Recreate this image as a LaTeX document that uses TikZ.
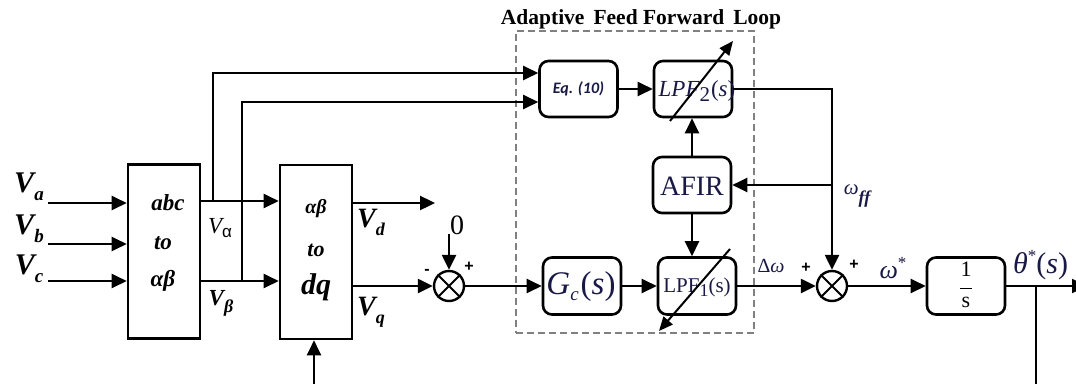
\documentclass[tikz,border=0pt]{standalone}
\usepackage{fontspec}
\setmainfont{Liberation Serif}
\newfontfamily\eqfont{Carlito}
\newfontfamily\arialf{Liberation Sans}
\usetikzlibrary{arrows.meta,calc}
\newcommand\fsz[1]{\fontsize{#1}{#1}\selectfont}
\definecolor{navy}{RGB}{25,25,70}
\definecolor{dashgray}{RGB}{128,128,128}
\begin{document}
\begin{tikzpicture}[x=1pt,y=-1pt,
  wire/.style={line width=2.4pt,-{Triangle[length=15pt,width=14pt]}},
  plain/.style={line width=2.4pt},
  diag/.style={line width=2pt,-{Triangle[length=14pt,width=12pt]}},
  blk/.style={draw,line width=2.6pt,minimum width=72pt,minimum height=174pt,inner sep=0pt},
  rblk/.style={draw,line width=2.6pt,rounded corners=9pt,minimum width=78pt,minimum height=57pt,inner sep=0pt},
  sumn/.style={draw,circle,line width=2.4pt,minimum size=30pt,inner sep=0pt},
  lbl/.style={inner sep=0pt,text=black},
  sign/.style={inner sep=0pt,font=\arialf\fsz{16}\bfseries},
]
\useasboundingbox (0,0) rectangle (1076,383);

% dashed region and title
\node[draw=dashgray,dash pattern=on 7pt off 4pt,line width=2pt,minimum width=238pt,minimum height=302pt,inner sep=0pt] (aff) at (635,182) {};
\node[lbl,font=\fsz{21.5}\bfseries] (title) at (641,19) {Adaptive\hspace{9pt}Feed Forward\hspace{9pt}Loop};

% abc to alpha beta
\node[blk] (abc) at (164,251.5) {};
\node[lbl] (abct) at (168,203) {\fsz{23}\bfseries\itshape abc};
\node[lbl] (abcto) at (163,243) {\fsz{23}\bfseries\itshape to};
\node[lbl] (abcab) at (163,281) {\fsz{23}\bfseries\itshape αβ};

% alpha beta to dq
\node[blk] (dq) at (316,252) {};
\node[lbl] (dqab) at (316,209) {\fsz{20}\bfseries\itshape αβ};
\node[lbl] (dqto) at (316,250) {\fsz{22}\bfseries\itshape to};
\node[lbl] (dqdq) at (316,287) {\fsz{30}\bfseries\itshape dq};

% blocks in the loop
\node[rblk,minimum height=56pt] (eq) at (578.5,89) {};
\node[lbl,text=navy] (eqt) at (578.5,89) {\eqfont\fsz{16}\bfseries\itshape Eq. (10)};
\node[rblk,minimum height=56pt] (lpf2) at (693,89) {};
\node[lbl,text=navy] (lpf2t) at (697,91) {\fsz{23}\itshape LPF\raisebox{-5pt}{\fsz{21}\upshape 2}\hspace{1pt}\upshape(\itshape s\upshape)};
\node[rblk,minimum height=56pt] (afir) at (692,185) {};
\node[lbl,text=navy] (afirt) at (692,186) {\fsz{28}AFIR};
\node[rblk] (gc) at (582,286) {};
\node[lbl,text=navy] (gct) at (581,287) {\fsz{33}\itshape G\raisebox{-6pt}{\fsz{19}c}\hspace{2pt}\upshape(\itshape s\upshape)};
\node[rblk] (lpf1) at (697,286) {};
\node[lbl,text=navy] (lpf1t) at (697,287) {\fsz{21}LPF\raisebox{-4pt}{\fsz{18}1}(s)};
\node[rblk] (ints) at (966,286) {};
\node[lbl] (intst) at (966,287) {\fsz{22}\renewcommand\arraystretch{0.72}\begin{tabular}{@{}c@{}}1\\\rule[3pt]{12pt}{1.2pt}\\s\end{tabular}};

% summing junctions
\node[sumn] (s1) at (449,286) {};
\draw[line width=2pt] (s1.north west) -- (s1.south east) (s1.north east) -- (s1.south west);
\node[sumn] (s2) at (832,286) {};
\draw[line width=2pt] (s2.north west) -- (s2.south east) (s2.north east) -- (s2.south west);

% coordinates
\coordinate (ia) at (48,203);
\coordinate (ib) at (48,244);
\coordinate (ic) at (48,281);
\coordinate (ya) at (0,201);
\coordinate (yb) at (0,281);
\coordinate (ta) at (213,73);
\coordinate (tb) at (242,102);
\coordinate (yd) at (0,203);
\coordinate (vdend) at (435,203);
\coordinate (zs) at (449,234);
\coordinate (outend) at (1087,286);
\coordinate (br) at (1036,286);
\coordinate (brend) at (1036,390);
\coordinate (dqin) at (314,390);
\coordinate (d2a) at (670,121);
\coordinate (d2b) at (733,41);
\coordinate (d1a) at (730,249);
\coordinate (d1b) at (659,331);

% input wires
\draw[wire] (ia) -- (ia -| abc.west);
\draw[wire] (ib) -- (ib -| abc.west);
\draw[wire] (ic) -- (ic -| abc.west);
\draw[wire] (abc.east |- ya) -- (dq.west |- ya);
\draw[wire] (abc.east |- yb) -- (dq.west |- yb);
\draw[wire] (ta |- ya) -- (ta) -- (ta -| eq.west);
\draw[wire] (tb |- yb) -- (tb) -- (tb -| eq.west);
\draw[wire] (dqin) -- (dqin |- dq.south);
\draw[wire] (dq.east |- yd) -- (vdend);
\draw[wire] (dq.east |- s1) -- (s1.west);
\draw[wire] (zs) -- (s1.north);

% main path
\draw[wire] (s1.east) -- (gc.west);
\draw[wire] (gc.east) -- (lpf1.west);
\draw[wire] (lpf1.east) -- (s2.west);
\draw[wire] (s2.east) -- (ints.west);
\draw[wire] (ints.east) -- (outend);
\draw[plain] (br) -- (brend);

% loop internals
\draw[wire] (eq.east) -- (lpf2.west);
\draw[wire] (afir.north) -- (afir.north |- lpf2.south);
\draw[wire] (afir.south) -- (afir.south |- lpf1.north);
\draw[wire] (lpf2.east) -| (s2.north);
\draw[wire] (s2 |- afir) -- (afir.east);
\draw[diag] (d2a) -- (d2b);
\draw[diag] (d1a) -- (d1b);

% labels
\node[lbl] (lVa) at (29,187) {{\fsz{30}\bfseries\itshape V}\raisebox{-8pt}{\fsz{19}\bfseries\itshape a}};
\node[lbl] (lVb) at (29,229) {{\fsz{30}\bfseries\itshape V}\raisebox{-8pt}{\fsz{19}\bfseries\itshape b}};
\node[lbl] (lVc) at (29,269) {{\fsz{30}\bfseries\itshape V}\raisebox{-8pt}{\fsz{19}\bfseries\itshape c}};
\node[lbl] (lValpha) at (220,228) {{\fsz{23}\itshape V}\raisebox{-4pt}{\arialf\fsz{17}α}};
\node[lbl] (lVbeta) at (221,303) {{\fsz{23}\bfseries\itshape V}\raisebox{-7pt}{\fsz{18}\bfseries\itshape β}};
\node[lbl] (lVd) at (371,222) {{\fsz{28}\bfseries\itshape V}\raisebox{-8pt}{\fsz{18}\bfseries\itshape d}};
\node[lbl] (lVq) at (371,312) {{\fsz{28}\bfseries\itshape V}\raisebox{-8pt}{\fsz{18}\bfseries\itshape q}};
\node[lbl] (lzero) at (457,225) {\fsz{28}0};
\node[sign] (m1) at (427,272) {-};
\node[sign] (p1) at (469,267) {+};
\node[sign] (p2) at (806,268) {+};
\node[sign] (p3) at (854,265) {+};
\node[lbl,text=navy] (ldw) at (771,266) {\fsz{20}Δ\itshape ω};
\node[lbl,text=navy] (lwff) at (857,196) {{\fsz{21}\itshape ω}\raisebox{-9pt}{\fsz{18}\bfseries\itshape ff}};
\node[lbl,text=navy] (lws) at (893,268) {{\fsz{26}\itshape ω}\raisebox{10pt}{\fsz{17}*}};
\node[lbl,text=navy,anchor=west] (lth) at (1013,265) {{\fsz{30}\itshape θ}\raisebox{12pt}{\fsz{17}*}{\fsz{30}(\itshape s\upshape)}};
\end{tikzpicture}
\end{document}
